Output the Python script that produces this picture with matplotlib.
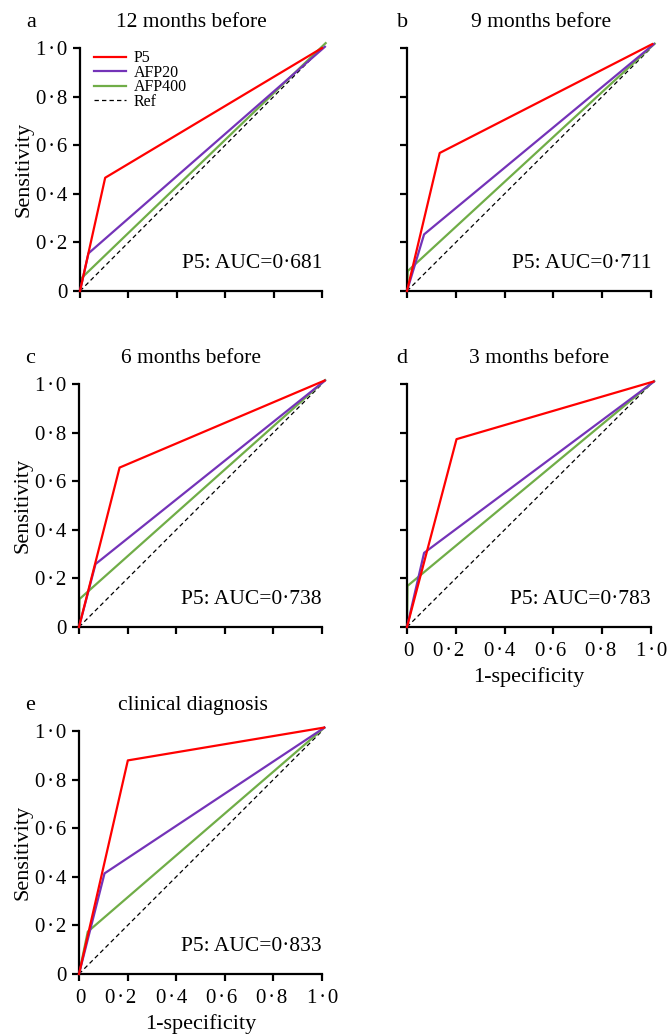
import numpy as np
import matplotlib
matplotlib.use('Agg')
import matplotlib.pyplot as plt
import matplotlib.transforms as mtransforms

plt.rcParams['font.family'] = ['Liberation Serif', 'DejaVu Serif']

# ROC points (1-specificity, sensitivity)
p5_x = [[0, 0.104, 1.0], [0, 0.134, 1.005], [0, 0.167, 1.01], [0, 0.203, 1.01], [0, 0.201, 1.008]]
p5_y = [[0, 0.466, 1.0], [0, 0.568, 1.016], [0, 0.656, 1.014], [0, 0.773, 1.01], [0, 0.879, 1.014]]
afp20_x = [[0, 0.035, 1.012], [0, 0.070, 1.012], [0, 0.068, 1.012], [0, 0.070, 1.012], [0, 0.105, 1.01]]
afp20_y = [[0, 0.155, 1.005], [0, 0.233, 1.016], [0, 0.259, 1.014], [0, 0.305, 1.01], [0, 0.414, 1.014]]
afp400_x = [[0, 0.005, 1.015], [0, 0.003, 1.015], [0, 0.002, 1.013], [0, 0.002, 1.013], [0, 0.036, 1.01]]
afp400_y = [[0, 0.052, 1.02], [0, 0.082, 1.018], [0, 0.115, 1.016], [0, 0.169, 1.012], [0, 0.174, 1.014]]
titles = ['12 months before', '9 months before', '6 months before', '3 months before', 'clinical diagnosis']
letters = ['a', 'b', 'c', 'd', 'e']
auc = ['0·681', '0·711', '0·738', '0·783', '0·833']
ticks = [0, 0.2, 0.4, 0.6, 0.8, 1.0]
sp = '\u200a'
tick_labels = ['0'] + ['%s%s·%s%s' % (s[0], sp, sp, s[2]) for s in ['0.2', '0.4', '0.6', '0.8', '1.0']]
xlabel_shift = [1, -7, -5, -3, -2, 1]  # px, labels in the source sit a bit off their ticks

W, H = 667, 1036
fig = plt.figure(figsize=(W / 100, H / 100), dpi=100)

# axes boxes in pixels: left, top, right, bottom
boxes = [(80, 48, 322, 291), (407, 48, 651, 291), (79, 384, 322, 627),
         (407, 384, 651, 627), (79, 731, 322, 974)]
title_x = [0.46, 0.55, 0.46, 0.54, 0.47]
red, purple, green = '#ff0000', '#7433b8', '#70ad47'

for i in range(5):
    l, t, r, b = boxes[i]
    ax = fig.add_axes([l / W, 1 - b / H, (r - l) / W, (b - t) / H])
    ax.plot([0, 1], [0, 1], '--', color='black', lw=0.9, dashes=(3.5, 2.5), label='Ref', zorder=1)
    ax.plot(afp400_x[i], afp400_y[i], color=green, lw=1.6, label='AFP400', clip_on=False, zorder=2)
    ax.plot(afp20_x[i], afp20_y[i], color=purple, lw=1.6, label='AFP20', clip_on=False, zorder=3)
    ax.plot(p5_x[i], p5_y[i], color=red, lw=1.6, label='P5', clip_on=False, zorder=4)
    ax.set_xlim(0, 1)
    ax.set_ylim(0, 1)
    for s in ['top', 'right']:
        ax.spines[s].set_visible(False)
    for s in ['left', 'bottom']:
        ax.spines[s].set_linewidth(1.6)
    ax.tick_params(direction='out', length=5, width=1.6, labelsize=15)
    ax.tick_params(axis='y', pad=4)
    ax.tick_params(axis='x', pad=6)
    ax.set_xticks(ticks)
    ax.set_yticks(ticks)
    if i in (0, 2, 4):
        ax.set_yticklabels(tick_labels)
        ax.set_ylabel('Sensitivity', fontsize=16, labelpad=2)
    else:
        ax.set_yticklabels([])
    if i in (3, 4):
        ax.set_xticklabels(tick_labels)
        ax.set_xlabel('1-specificity', fontsize=16, labelpad=4)
        for k, lbl in enumerate(ax.get_xticklabels()):
            off = mtransforms.ScaledTranslation(xlabel_shift[k] / 100, 0, fig.dpi_scale_trans)
            lbl.set_transform(lbl.get_transform() + off)
    else:
        ax.set_xticklabels([])
    ax.text(title_x[i], 1.105, titles[i], transform=ax.transAxes, ha='center', va='center', fontsize=15.5)
    ax.text(-0.2 if i in (0, 2, 4) else -0.02, 1.105, letters[i], transform=ax.transAxes,
            ha='center', va='center', fontsize=16)
    ax.text(1.0, 0.115, 'P5: AUC=' + auc[i], ha='right', va='center', fontsize=15.5)
    if i == 0:
        h, lab = ax.get_legend_handles_labels()
        order = [3, 2, 1, 0]
        ax.legend([h[k] for k in order], [lab[k] for k in order], loc='upper left',
                  bbox_to_anchor=(0.02, 1.03), frameon=False, fontsize=11.5, handlelength=1.95,
                  handletextpad=0.5, labelspacing=-0.1, borderaxespad=0.2)

fig.savefig('out.png', dpi=100)
